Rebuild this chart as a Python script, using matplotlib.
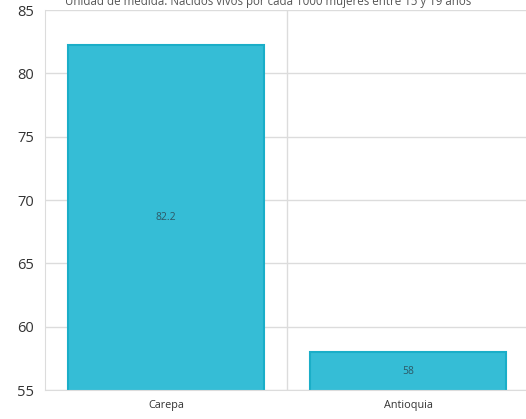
import matplotlib
matplotlib.use("Agg")
import matplotlib.pyplot as plt

# ================== DATA ==================
categories = ["Carepa", "Antioquia"]
values = [82.2, 58]
value_labels = ["82.2", "58"]
y_ticks = [55, 60, 65, 70, 75, 80, 85]
subtitle = "Unidad de medida: Nacidos vivos por cada 1000 mujeres entre 15 y 19 años"

BAR_COLOR = "#35bdd6"
EDGE_COLOR = "#1aaec8"
GRID_COLOR = "#dcdcdc"

plt.rcParams["font.family"] = ["Open Sans", "DejaVu Sans"]

fig = plt.figure(figsize=(5.26, 4.19), dpi=100)
ax = fig.add_axes([45 / 526, 29 / 419, 484 / 526, 380 / 419])

x = list(range(len(categories)))
ax.bar(x, values, width=0.81, color=BAR_COLOR, edgecolor=EDGE_COLOR,
       linewidth=1.5, zorder=2)

for xi, v, lab in zip(x, values, value_labels):
    ax.text(xi, (v + 55) / 2, lab, ha="center", va="center",
            fontsize=7.5, color="#2d5866", zorder=3)

ax.set_xlim(-0.5, 1.5)
ax.set_ylim(55, 85)
ax.set_yticks(y_ticks)
ax.set_yticklabels([str(t) for t in y_ticks], fontsize=10.5, color="#333333")
ax.set_xticks(x)
ax.set_xticklabels(categories, fontsize=7.8, color="#333333")
ax.tick_params(axis="both", length=0, pad=8)
ax.tick_params(axis="x", pad=7)

ax.grid(axis="y", color=GRID_COLOR, linewidth=1, zorder=0)
ax.axvline(0.5, color=GRID_COLOR, linewidth=1, zorder=0)

for side in ["top", "right"]:
    ax.spines[side].set_visible(False)
for side in ["left", "bottom"]:
    ax.spines[side].set_color(GRID_COLOR)

# title partially cut off at top edge in the original
fig.text(268 / 526, 1.0 - 1 / 419, subtitle, ha="center", va="center",
         fontsize=8.3, color="#555555")

fig.savefig("out.png", dpi=100)
